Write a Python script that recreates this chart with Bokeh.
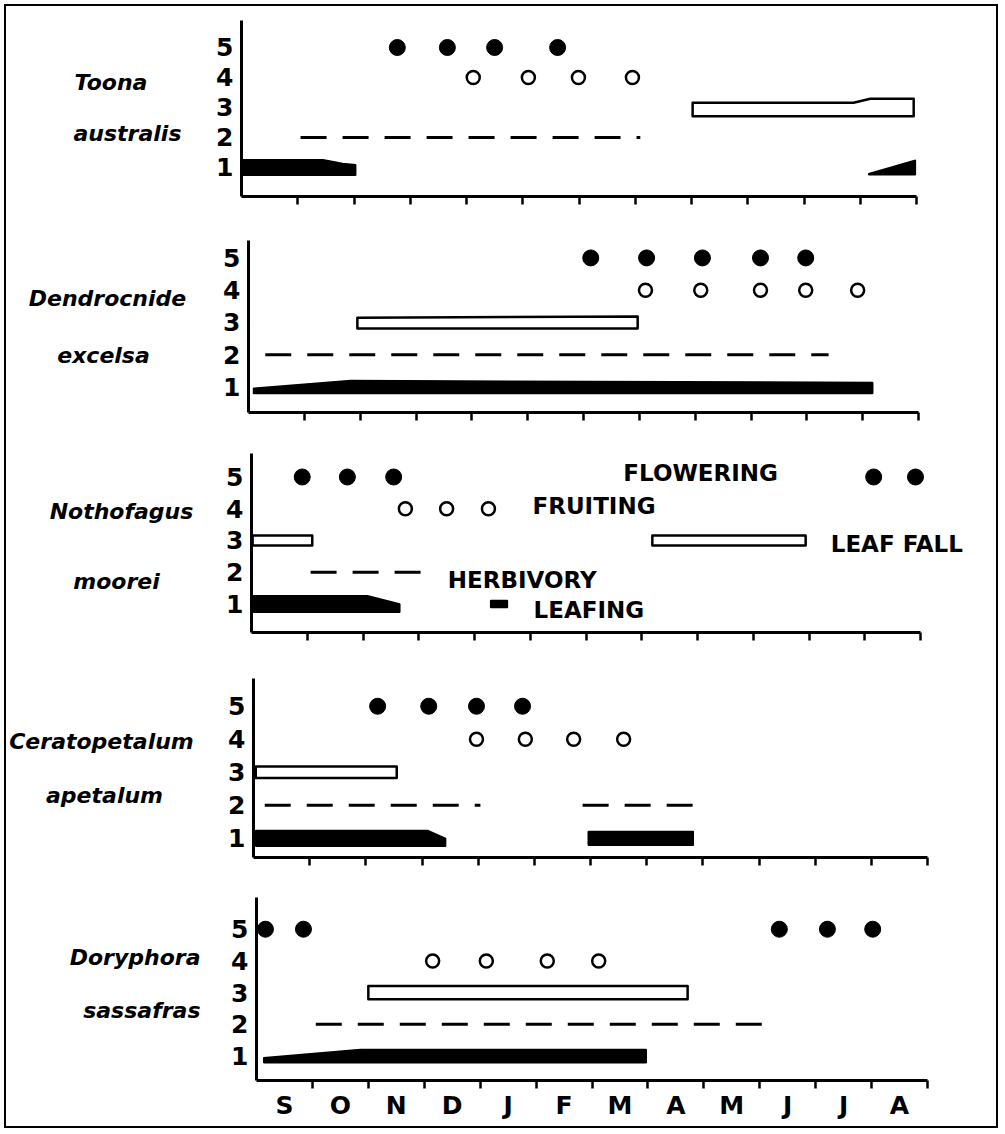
from bokeh.plotting import figure
from bokeh.models import FixedTicker, Label
from bokeh.layouts import column, row
from bokeh.embed import file_html
from bokeh.resources import INLINE

# ---------------- data (months from start of September = 0) ----------------
MONTHS = ["S", "O", "N", "D", "J", "F", "M", "A", "M", "J", "J", "A"]
LEVELS = [1, 2, 3, 4, 5]   # 1 leafing, 2 herbivory, 3 leaf fall, 4 fruiting, 5 flowering

# Toona australis
toona_flowering = [2.77, 3.66, 4.50, 5.62]
toona_fruiting = [4.12, 5.10, 5.99, 6.95]
toona_leaffall_x = [[8.02, 10.88, 11.18, 11.95]]
toona_leaffall_w = [[0.45, 0.45, 0.58, 0.58]]
toona_herbivory = [(1.05, 7.09)]
toona_leafing_x = [[0.02, 1.45, 1.80, 2.03], [11.15, 11.98]]
toona_leafing_w = [[0.52, 0.52, 0.39, 0.35], [0.03, 0.48]]

# Dendrocnide excelsa
dend_flowering = [6.13, 7.13, 8.13, 9.17, 9.98]
dend_fruiting = [7.11, 8.10, 9.17, 9.98, 10.91]
dend_leaffall_x = [[1.95, 6.97]]
dend_leaffall_w = [[0.33, 0.37]]
dend_herbivory = [(0.30, 10.39)]
dend_leafing_x = [[0.09, 1.83, 11.18]]
dend_leafing_w = [[0.16, 0.40, 0.34]]

# Nothofagus moorei
noth_flowering = [0.91, 1.72, 2.55, 11.16, 11.91]
noth_fruiting = [2.76, 3.50, 4.25]
noth_leaffall_x = [[0.02, 1.09], [7.19, 9.94]]
noth_leaffall_w = [[0.32, 0.32], [0.32, 0.32]]
noth_herbivory = [(1.06, 3.27)]
noth_leafing_x = [[0.02, 2.08, 2.66], [4.29, 4.59]]
noth_leafing_w = [[0.52, 0.52, 0.26], [0.22, 0.22]]

# Ceratopetalum apetalum
cera_flowering = [2.21, 3.12, 3.97, 4.79]
cera_fruiting = [3.97, 4.84, 5.70, 6.59]
cera_leaffall_x = [[0.04, 2.55]]
cera_leaffall_w = [[0.35, 0.35]]
cera_herbivory = [(0.20, 4.04), (5.86, 7.90)]
cera_leafing_x = [[0.04, 3.10, 3.42], [5.96, 7.83]]
cera_leafing_w = [[0.48, 0.48, 0.24], [0.42, 0.42]]

# Doryphora sassafras
dory_flowering = [0.16, 0.84, 9.35, 10.21, 11.02]
dory_fruiting = [3.15, 4.11, 5.20, 6.12]
dory_leaffall_x = [[2.00, 7.71]]
dory_leaffall_w = [[0.42, 0.42]]
dory_herbivory = [(1.06, 9.10)]
dory_leafing_x = [[0.13, 1.86, 6.97]]
dory_leafing_w = [[0.16, 0.42, 0.42]]

# legend words written inside the Nothofagus panel
phase_words = ["FLOWERING", "FRUITING", "LEAF FALL", "HERBIVORY", "LEAFING"]

FONT = "DejaVu Sans"

# ---------------- layout of each panel ----------------
panels = [
    dict(name=("Toona", "australis"), fl=toona_flowering, fr=toona_fruiting,
         lfx=toona_leaffall_x, lfw=toona_leaffall_w, hb=toona_herbivory,
         lvx=toona_leafing_x, lvw=toona_leafing_w,
         left=35, fw=675, top=14, fh=176, bottom=26, yr=(0.033, 5.9),
         names=[(68, 3.83, "left"), (67, 2.13, "left")]),
    dict(name=("Dendrocnide", "excelsa"), fl=dend_flowering, fr=dend_fruiting,
         lfx=dend_leaffall_x, lfw=dend_leaffall_w, hb=dend_herbivory,
         lvx=dend_leafing_x, lvw=dend_leafing_w,
         left=42, fw=670, top=18, fh=172, bottom=28, yr=(0.21, 5.54),
         names=[(101, 3.74, "center"), (97, 1.98, "center")]),
    dict(name=("Nothofagus", "moorei"), fl=noth_flowering, fr=noth_fruiting,
         lfx=noth_leaffall_x, lfw=noth_leaffall_w, hb=noth_herbivory,
         lvx=noth_leafing_x, lvw=noth_leafing_w,
         left=45, fw=669, top=13, fh=179, bottom=28, yr=(0.10, 5.74),
         names=[(115, 3.90, "center"), (110, 1.71, "center")]),
    dict(name=("Ceratopetalum", "apetalum"), fl=cera_flowering, fr=cera_fruiting,
         lfx=cera_leaffall_x, lfw=cera_leaffall_w, hb=cera_herbivory,
         lvx=cera_leafing_x, lvw=cera_leafing_w,
         left=47, fw=674, top=18, fh=179, bottom=21, yr=(0.42, 5.84),
         names=[(95, 3.93, "center"), (98, 2.30, "center")]),
    dict(name=("Doryphora", "sassafras"), fl=dory_flowering, fr=dory_fruiting,
         lfx=dory_leaffall_x, lfw=dory_leaffall_w, hb=dory_herbivory,
         lvx=dory_leafing_x, lvw=dory_leafing_w,
         left=50, fw=671, top=19, fh=183, bottom=46, yr=(0.23, 6.0),
         names=[(194, 4.11, "right"), (194, 2.44, "right")]),
]

CONTENT_W = 990
NAME_W = 200


def band(p, xs, ws, level, fill):
    base = level - max(ws) / 2.0
    top = [base + w for w in ws]
    px = list(xs) + list(reversed(xs))
    py = top + [base] * len(xs)
    if fill:
        p.patch(px, py, fill_color="black", line_color="black", line_width=1.5)
    else:
        p.patch(px, py, fill_color="white", line_color="black", line_width=2.5,
                line_join="round")


rows = []
for i, d in enumerate(panels):
    last = i == len(panels) - 1
    right = CONTENT_W - NAME_W - d["left"] - d["fw"]
    x_end = 12.0 * (d["fw"] + right) / d["fw"]

    # ---- species name column ----
    nf = figure(frame_width=NAME_W, frame_height=d["fh"],
                min_border_left=0, min_border_right=0,
                min_border_top=d["top"], min_border_bottom=d["bottom"],
                x_range=(0, NAME_W), y_range=d["yr"],
                x_axis_location=None, y_axis_location=None,
                output_backend="svg", toolbar_location=None,
                background_fill_color="white", border_fill_color="white",
                outline_line_color=None)
    nf.grid.visible = False
    for text, (x, y, al) in zip(d["name"], d["names"]):
        nf.add_layout(Label(x=x, y=y, text=text, text_align=al,
                            text_baseline="middle", text_font=FONT,
                            text_font_style="bold italic",
                            text_font_size="22px", text_color="black"))

    # ---- phenology panel ----
    p = figure(frame_width=d["fw"] + right, frame_height=d["fh"],
               min_border_left=d["left"], min_border_right=0,
               min_border_top=d["top"], min_border_bottom=d["bottom"],
               x_range=(0, x_end), y_range=d["yr"],
               output_backend="svg", toolbar_location=None,
               background_fill_color="white", border_fill_color="white",
               outline_line_color=None)
    p.grid.visible = False

    # y axis: levels 1..5
    ya = p.yaxis[0]
    ya.ticker = FixedTicker(ticks=LEVELS, minor_ticks=[])
    ya.major_tick_line_color = None
    ya.major_tick_out = 0
    ya.major_tick_in = 0
    ya.minor_tick_line_color = None
    ya.axis_line_width = 3
    ya.axis_line_color = "black"
    ya.major_label_standoff = 8
    ya.major_label_text_font = FONT
    ya.major_label_text_font_style = "bold"
    ya.major_label_text_font_size = "25px"
    ya.major_label_text_color = "black"

    # x axis: month ticks; labels only in last panel
    xa = p.xaxis[0]
    xa.bounds = (0, 12)
    centers = [m + 0.5 for m in range(12)]
    xa.ticker = FixedTicker(ticks=centers if last else [],
                            minor_ticks=list(range(1, 13)))
    if last:
        xa.major_label_overrides = {c: MONTHS[k] for k, c in enumerate(centers)}
    xa.major_tick_line_color = None
    xa.major_tick_out = 0
    xa.major_tick_in = 0
    xa.minor_tick_line_color = "black"
    xa.minor_tick_line_width = 2.5
    xa.minor_tick_out = 8
    xa.minor_tick_in = 0
    xa.axis_line_width = 3
    xa.axis_line_color = "black"
    xa.major_label_standoff = 2
    xa.major_label_text_font = FONT
    xa.major_label_text_font_style = "bold"
    xa.major_label_text_font_size = "25px"
    xa.major_label_text_color = "black"

    # leafing (1): solid black bands
    for xs, ws in zip(d["lvx"], d["lvw"]):
        band(p, xs, ws, 1, True)
    # herbivory (2): dashed lines
    p.segment(x0=[a for a, b in d["hb"]], y0=[2] * len(d["hb"]),
              x1=[b for a, b in d["hb"]], y1=[2] * len(d["hb"]),
              line_color="black", line_width=3, line_dash="26 16")
    # leaf fall (3): open bars
    for xs, ws in zip(d["lfx"], d["lfw"]):
        band(p, xs, ws, 3, False)
    # fruiting (4): open circles
    p.scatter(d["fr"], [4] * len(d["fr"]), marker="circle", size=13,
              fill_color="white", line_color="black", line_width=2.5)
    # flowering (5): filled circles
    p.scatter(d["fl"], [5] * len(d["fl"]), marker="circle", size=16,
              fill_color="black", line_color="black")

    if i == 2:
        word_pos = [(6.67, 5.14), (5.04, 4.10), (10.39, 2.90), (3.52, 1.74), (5.06, 0.80)]
        for w, (x, y) in zip(phase_words, word_pos):
            p.add_layout(Label(x=x, y=y, text=w, text_align="left",
                               text_baseline="middle", text_font=FONT,
                               text_font_style="bold", text_font_size="23px",
                               text_color="black"))
    rows.append(row(nf, p, spacing=0))

layout = column(*rows, spacing=0,
                styles={"border": "2px solid black", "margin": "4px"})

open("out.html", "w").write(file_html(layout, INLINE))
